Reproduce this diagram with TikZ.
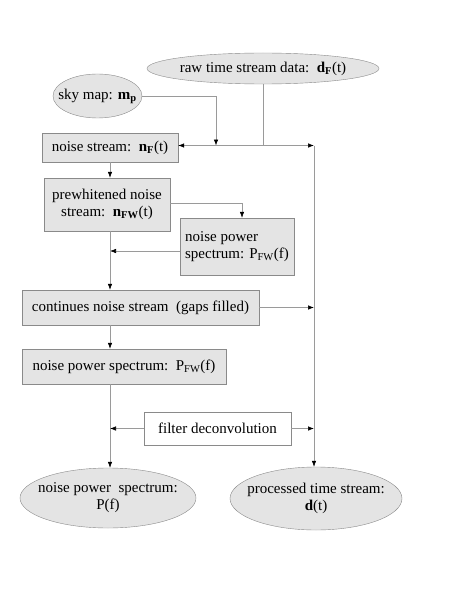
\documentclass[tikz,border=0pt]{standalone}
\usepackage{fontspec}
\setmainfont{Liberation Serif}
\usetikzlibrary{shapes.geometric,arrows.meta}
\definecolor{boxfill}{HTML}{E4E4E4}
\definecolor{boxline}{HTML}{8A8A8A}
\definecolor{wire}{HTML}{9A9A9A}
\tikzset{
  txt/.style={font=\fontsize{15}{17}\selectfont},
  gbox/.style={draw=boxline, fill=boxfill, inner sep=0pt, txt},
  wbox/.style={draw=boxline, fill=white, inner sep=0pt, txt},
  gell/.style={ellipse, draw=boxline, fill=boxfill, inner sep=0pt},
  etext/.style={label={[txt, align=center]center:#1}},
  wire/.style={draw=wire, line width=0.6pt},
  arr/.style={wire, -{Latex[black,length=6pt,width=4.5pt]}},
}
\begin{document}
\begin{tikzpicture}[x=1pt,y=-1pt]
\useasboundingbox (0,0) rectangle (463,599);
% nodes
\node[gell, minimum width=232, minimum height=31, etext={raw time stream data:\ \ \textbf{d}\textsubscript{\textbf{F}}(t)}] (raw) at (263,68.5) {};
\node[gell, minimum width=89, minimum height=44, etext={sky map: \textbf{m}\textsubscript{\textbf{p}}}] (sky) at (97.5,96) {};
\node[gbox, minimum width=136, minimum height=29] (ns) at (110,147.5) {noise stream:\ \ \textbf{n}\textsubscript{\textbf{F}}(t)};
\node[gbox, minimum width=126, minimum height=53, align=center] (pw) at (107,204.5) {prewhitened noise\\stream:\ \ \textbf{n}\textsubscript{\textbf{FW}}(t)};
\node[gbox, minimum width=114, minimum height=57, align=left] (nps1) at (237,246.5) {noise power\\spectrum: P\textsubscript{FW}(f)};
\node[gbox, minimum width=237, minimum height=35] (cont) at (140.5,307.5) {continues noise stream\ \ (gaps filled)};
\node[gbox, minimum width=204, minimum height=35] (nps2) at (124,366.5) {noise power spectrum:\ \ P\textsubscript{FW}(f)};
\node[wbox, minimum width=147, minimum height=33] (filt) at (217.5,428.5) {filter deconvolution};
\node[gell, minimum width=176, minimum height=60, etext={noise power\ \ spectrum:\\P(f)}] (pf) at (108,498) {};
\node[gell, minimum width=172, minimum height=63, etext={processed time stream:\\\textbf{d}(t)}] (dt) at (316,498.5) {};
% junction coordinates
\coordinate (jy) at (0,145.5);
\coordinate (rx) at (314,0);
\coordinate (lx) at (110,0);
\coordinate (skyx) at (216,0);
% top horizontal bus
\draw[wire] (raw.south) -- (raw.south |- jy);
\draw[arr] (sky.east) -| (skyx |- jy);
\draw[arr] (raw.south |- jy) -- (ns.east |- jy);
\draw[arr] (raw.south |- jy) -- (rx |- jy);
\draw[arr] (rx |- jy) -- (dt.north -| rx);
% left column
\draw[arr] (ns.south -| lx) -- (pw.north -| lx);
\draw[arr] (pw.east |- 0,203) -| (242,0 |- nps1.north);
\draw[arr] (nps1.west |- 0,251) -- (lx |- 0,251);
\draw[arr] (pw.south -| lx) -- (cont.north -| lx);
\draw[arr] (cont.east) -- (rx |- cont.east);
\draw[arr] (cont.south -| lx) -- (nps2.north -| lx);
\draw[arr] (nps2.south -| lx) -- (pf.north -| lx);
\draw[arr] (filt.west) -- (lx |- filt.west);
\draw[arr] (filt.east) -- (rx |- filt.east);
\end{tikzpicture}
\end{document}
